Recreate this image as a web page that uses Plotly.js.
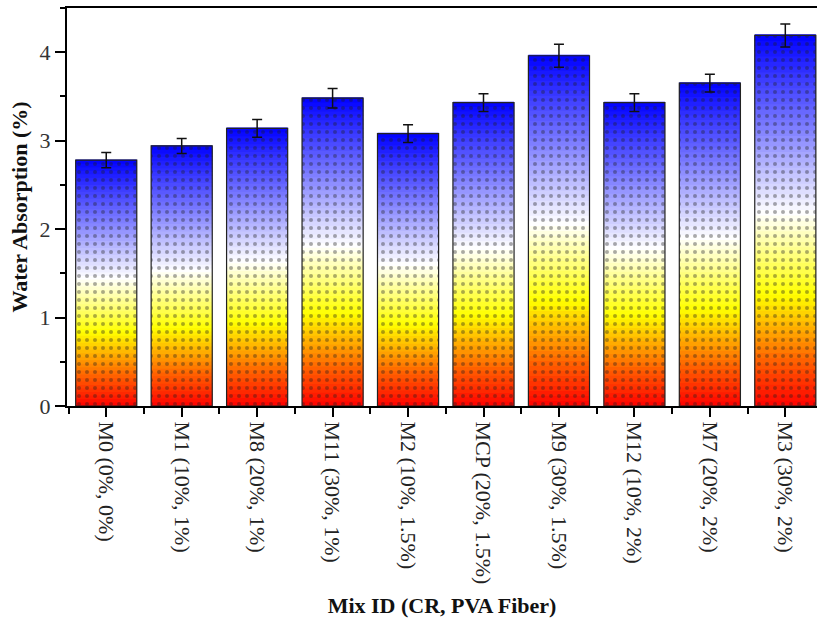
<!DOCTYPE html>
<html>
<head>
<meta charset="utf-8">
<script src="https://cdn.plot.ly/plotly-3.0.1.min.js"></script>
<style>html,body{margin:0;padding:0;background:#fff;}#chart{width:817px;height:622px;}</style>
</head>
<body>
<div id="chart"></div>
<script>
// ---- data ----
const categories = ["M0 (0%, 0%)", "M1 (10%, 1%)", "M8 (20%, 1%)", "M11 (30%, 1%)", "M2 (10%, 1.5%)",
                    "MCP (20%, 1.5%)", "M9 (30%, 1.5%)", "M12 (10%, 2%)", "M7 (20%, 2%)", "M3 (30%, 2%)"];
const absorption = [2.78, 2.94, 3.14, 3.48, 3.08, 3.43, 3.96, 3.43, 3.65, 4.19];
const errors     = [0.085, 0.085, 0.10, 0.11, 0.10, 0.10, 0.13, 0.10, 0.10, 0.13];
const yTickVals  = [0, 1, 2, 3, 4];

// ---- gradient (relative to each bar's height) ----
const stops = [
  [0.00, [255, 0, 0]],
  [0.12, [255, 95, 0]],
  [0.30, [255, 255, 0]],
  [0.52, [255, 255, 255]],
  [0.76, [120, 120, 255]],
  [1.00, [0, 0, 255]]
];
function gradColor(f) {
  for (let i = 1; i < stops.length; i++) {
    if (f <= stops[i][0]) {
      const a = stops[i - 1], b = stops[i];
      const t = (f - a[0]) / (b[0] - a[0]);
      const c = a[1].map((v, j) => Math.round(v + (b[1][j] - v) * t));
      return "rgb(" + c.join(",") + ")";
    }
  }
  return "rgb(0,0,255)";
}

const xIdx = categories.map((_, i) => i);
const barWidth = 0.81;
const N = 70;
const traces = [];
for (let k = 0; k < N; k++) {
  const h = (k === N - 1) ? 1 : 2.2;
  traces.push({
    type: "bar",
    x: xIdx,
    y: absorption.map(v => v * h / N),
    base: absorption.map(v => v * k / N),
    width: barWidth,
    marker: { color: gradColor((k + 0.5) / N), line: { width: 0 } },
    hoverinfo: "skip",
    showlegend: false
  });
}
// pattern + outline + error bars
traces.push({
  type: "bar",
  x: xIdx,
  y: absorption,
  width: barWidth,
  marker: {
    color: "rgba(0,0,0,0)",
    line: { color: "#222", width: 1.2 },
    pattern: { shape: ".", size: 8, solidity: 0.2, fgcolor: "rgba(30,30,30,0.75)", bgcolor: "rgba(0,0,0,0)", fillmode: "overlay" }
  },
  error_y: { type: "data", array: errors, visible: true, color: "#111", thickness: 1.5, width: 5 },
  hoverinfo: "skip",
  showlegend: false
});

const serif = "Liberation Serif";
const layout = {
  width: 817, height: 622,
  margin: { l: 67, r: 0, t: 8, b: 216 },
  paper_bgcolor: "#fff", plot_bgcolor: "#fff",
  barmode: "overlay",
  showlegend: false,
  font: { family: serif, color: "#222" },
  xaxis: {
    range: [-0.52, 9.42],
    tickmode: "array", tickvals: xIdx, ticktext: categories,
    tickangle: 90,
    tickfont: { family: serif, size: 22, color: "#222" },
    ticks: "outside", ticklen: 9, tickwidth: 2, tickcolor: "#000",
    minor: { tickmode: "linear", tick0: 0.5, dtick: 1, ticks: "outside", ticklen: 6, tickwidth: 2, tickcolor: "#000" },
    showline: true, linecolor: "#000", linewidth: 2, mirror: true,
    showgrid: false, zeroline: false,
    title: { text: "Mix ID (CR, PVA Fiber)", font: { family: serif, size: 22, weight: "bold", color: "#111" }, standoff: 14 }
  },
  yaxis: {
    range: [0, 4.5],
    tickmode: "array", tickvals: yTickVals,
    tickfont: { family: serif, size: 22, color: "#333" },
    ticks: "outside", ticklen: 10, tickwidth: 2, tickcolor: "#000",
    minor: { tickmode: "linear", tick0: 0.5, dtick: 1, ticks: "outside", ticklen: 5, tickwidth: 2, tickcolor: "#000" },
    showline: true, linecolor: "#000", linewidth: 2,
    showgrid: false, zeroline: false,
    title: { text: "Water Absorption (%)", font: { family: serif, size: 22, weight: "bold", color: "#111" }, standoff: 6 }
  }
};

Plotly.newPlot("chart", traces, layout, { staticPlot: true, displayModeBar: false });
</script>
</body>
</html>
